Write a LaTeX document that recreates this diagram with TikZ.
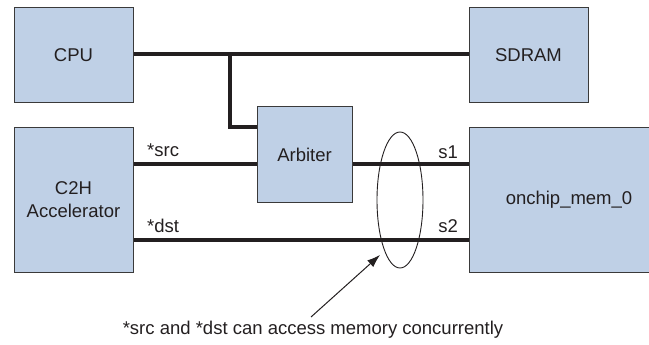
\documentclass[tikz,border=0pt]{standalone}
\usepackage{fontspec}
\setmainfont{Liberation Sans}
\usetikzlibrary{arrows.meta,shapes.geometric}
\definecolor{boxfill}{HTML}{BFD0E6}
\definecolor{boxline}{HTML}{3A3A3A}
\definecolor{ink}{HTML}{231F20}
\begin{document}
\begin{tikzpicture}[x=1pt,y=-1pt,
  blk/.style={draw=boxline,line width=1pt,fill=boxfill,inner sep=0pt,text=ink,
    font=\fontsize{18.5}{23}\selectfont,align=center},
  bus/.style={draw=ink,line width=3.4pt},
  lbl/.style={text=ink,font=\fontsize{18.5}{22}\selectfont,inner sep=0pt}]
\useasboundingbox (0,0) rectangle (649,345);
\clip (0,0) rectangle (649,345);
% boxes
\node[blk,minimum width=119pt,minimum height=95pt] (cpu) at (73.5,55.5) {CPU};
\node[blk,minimum width=119pt,minimum height=95pt] (sdram) at (528.5,55.5) {SDRAM};
\node[blk,minimum width=95pt,minimum height=95pt] (arb) at (304.5,154.5) {Arbiter};
\node[blk,minimum width=119pt,minimum height=144pt] (c2h) at (73.5,200) {C2H\\Accelerator};
\node[blk,minimum width=200pt,minimum height=144pt] (mem) at (569,200) {onchip\_mem\_0};
% buses
\coordinate (br) at (230,54);
\coordinate (brd) at (230,127);
\draw[bus] (cpu.east |- br) -- (sdram.west |- br);
\draw[bus,line join=miter] (br) -- (brd) -- (arb.west |- brd);
\coordinate (ysrc) at (0,164);
\coordinate (ydst) at (0,240);
\draw[bus] (c2h.east |- ysrc) -- (arb.west |- ysrc);
\draw[bus] (arb.east |- ysrc) -- (mem.west |- ysrc);
\draw[bus] (c2h.east |- ydst) -- (mem.west |- ydst);
% labels
\node[lbl,anchor=base west] (src) at (147,157) {*src};
\node[lbl,anchor=base west] (dst) at (147,233) {*dst};
\node[lbl,anchor=base east] (s1) at (458,158) {s1};
\node[lbl,anchor=base east] (s2) at (458,233) {s2};
% ellipse and callout
\node[draw=ink,line width=0.9pt,ellipse,minimum width=46pt,minimum height=136pt,inner sep=0pt] (ell) at (400,200) {};
\node[lbl,anchor=base] (note) at (313,334) {*src and *dst can access memory concurrently};
\coordinate (tail) at (311,317);
\coordinate (tip) at (380,255);
\draw[ink,line width=1pt,-{Latex[length=13pt,width=9pt]}] (tail) -- (tip);
\end{tikzpicture}
\end{document}
